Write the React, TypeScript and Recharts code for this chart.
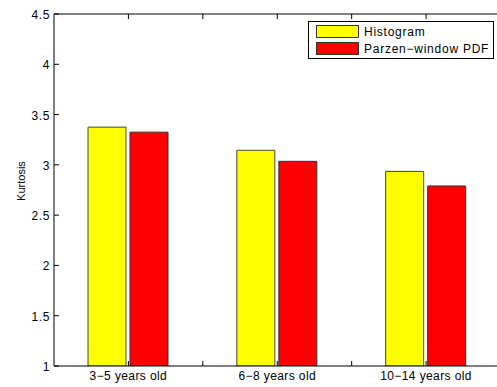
import { BarChart, Bar, XAxis, YAxis, Label } from 'recharts';

const groups = ['3−5 years old', '6−8 years old', '10−14 years old'];
const positions = [1, 2, 3];
const histogram = [3.375, 3.145, 2.935];
const parzen = [3.325, 3.035, 2.79];
const yTicks = [1, 1.5, 2, 2.5, 3, 3.5, 4, 4.5];
const xTicks = [1, 1.5, 2, 2.5, 3];
const seriesNames = ['Histogram', 'Parzen−window PDF'];
const seriesColors = ['#ffff00', '#ff0000'];

const data = groups.map((name, i) => ({
  name,
  pos: positions[i],
  histogram: histogram[i],
  parzen: parzen[i],
}));

const FONT = '"Liberation Sans", Arial, Helvetica, sans-serif';

function BottomTick(props: any) {
  const { x, y, payload } = props;
  const idx = positions.indexOf(payload.value);
  const label = idx >= 0 ? groups[idx] : '';
  return (
    <g>
      <line x1={x} y1={y} x2={x} y2={y - 5} stroke="#000" />
      {label && (
        <text
          x={x}
          y={y + 14}
          textAnchor="middle"
          fontSize={12}
          letterSpacing={0.4}
          fill="#000"
          fontFamily={FONT}
        >
          {label}
        </text>
      )}
    </g>
  );
}

function TopTick(props: any) {
  const { x, y } = props;
  return <line x1={x} y1={y} x2={x} y2={y + 5} stroke="#000" />;
}

function LeftTick(props: any) {
  const { x, y, payload } = props;
  return (
    <g>
      <line x1={x + 4} y1={y} x2={x + 9} y2={y} stroke="#000" />
      <text
        x={x}
        y={y + 5}
        textAnchor="end"
        fontSize={12}
        letterSpacing={0.6}
        fill="#000"
        fontFamily={FONT}
      >
        {payload.value}
      </text>
    </g>
  );
}

function RightTick(props: any) {
  const { x, y } = props;
  return <line x1={x - 5} y1={y} x2={x} y2={y} stroke="#000" />;
}

// legend box drawn as an svg overlay on top of the plot
function LegendBox() {
  const left = 308.5;
  const top = 21.5;
  return (
    <svg
      width={497}
      height={387}
      style={{ position: 'absolute', left: 0, top: 0, pointerEvents: 'none' }}
    >
      <rect x={left} y={top} width={185} height={37} fill="#fff" stroke="#000" strokeWidth={1} />
      {seriesNames.map((name, i) => (
        <g key={name}>
          <rect
            x={left + 8}
            y={top + 4 + i * 17}
            width={42}
            height={12}
            fill={seriesColors[i]}
            stroke="#333"
            strokeWidth={1}
          />
          <text
            x={left + 55.5}
            y={top + 14.5 + i * 17}
            fontSize={12}
            letterSpacing={0.75}
            fill="#000"
            fontFamily={FONT}
          >
            {name}
          </text>
        </g>
      ))}
    </svg>
  );
}

export default function App() {
  return (
    <div
      style={{
        position: 'absolute',
        left: 0,
        top: 0,
        width: 497,
        height: 387,
        overflow: 'hidden',
        background: '#fff',
      }}
    >
      <BarChart
        width={520}
        height={387}
        data={data}
        margin={{ top: 13, right: 19.5, bottom: 0, left: 0 }}
        barSize={38}
        barGap={4}
      >
        <XAxis xAxisId="cat" dataKey="name" type="category" hide />
        <XAxis
          xAxisId="b"
          dataKey="pos"
          type="number"
          orientation="bottom"
          domain={[0.5, 3.5]}
          allowDataOverflow
          ticks={xTicks}
          interval={0}
          height={21}
          tickSize={0}
          tickMargin={0}
          tick={<BottomTick />}
          axisLine={{ stroke: '#000' }}
          tickLine={false}
        />
        <XAxis
          xAxisId="t"
          dataKey="pos"
          type="number"
          orientation="top"
          domain={[0.5, 3.5]}
          allowDataOverflow
          ticks={xTicks}
          interval={0}
          height={1}
          tickSize={0}
          tickMargin={0}
          tick={<TopTick />}
          axisLine={{ stroke: '#000' }}
          tickLine={false}
        />
        <YAxis
          yAxisId="l"
          type="number"
          domain={[1, 4.5]}
          allowDataOverflow
          ticks={yTicks}
          interval={0}
          width={54}
          tickSize={0}
          tickMargin={4}
          tick={<LeftTick />}
          axisLine={{ stroke: '#000' }}
          tickLine={false}
        >
          <Label
            content={(p: any) => {
              const vb = p.viewBox || { x: 0, y: 14, height: 352 };
              const cx = 20.5;
              const cy = vb.y + vb.height / 2 - 9;
              return (
                <text
                  x={cx}
                  y={cy}
                  transform={`rotate(-90, ${cx}, ${cy})`}
                  textAnchor="middle"
                  dominantBaseline="central"
                  fontSize={11}
                  fill="#000"
                  fontFamily={FONT}
                >
                  Kurtosis
                </text>
              );
            }}
          />
        </YAxis>
        <YAxis
          yAxisId="r"
          orientation="right"
          type="number"
          domain={[1, 4.5]}
          allowDataOverflow
          ticks={yTicks}
          interval={0}
          width={0}
          tickSize={0}
          tickMargin={0}
          tick={<RightTick />}
          axisLine={{ stroke: '#000' }}
          tickLine={false}
        />
        <Bar
          xAxisId="cat"
          yAxisId="l"
          dataKey="histogram"
          name={seriesNames[0]}
          fill={seriesColors[0]}
          stroke="#444"
          strokeWidth={1}
          isAnimationActive={false}
        />
        <Bar
          xAxisId="cat"
          yAxisId="l"
          dataKey="parzen"
          name={seriesNames[1]}
          fill={seriesColors[1]}
          stroke="#333"
          strokeWidth={1}
          isAnimationActive={false}
        />
      </BarChart>
      <LegendBox />
    </div>
  );
}
